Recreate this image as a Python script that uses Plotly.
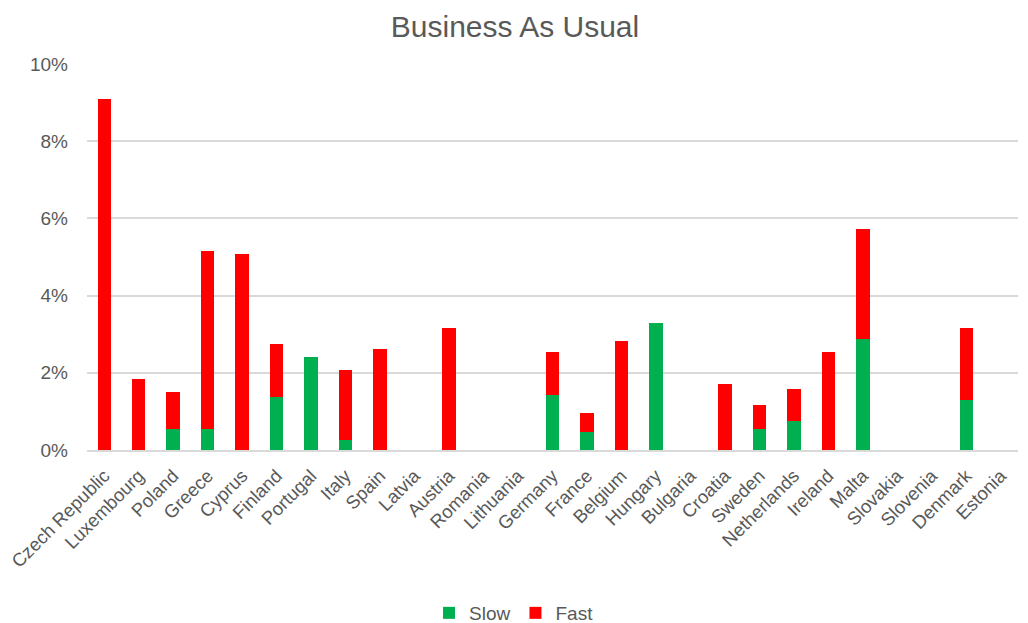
import plotly.graph_objects as go

countries = ["Czech Republic", "Luxembourg", "Poland", "Greece", "Cyprus", "Finland",
             "Portugal", "Italy", "Spain", "Latvia", "Austria", "Romania", "Lithuania",
             "Germany", "France", "Belgium", "Hungary", "Bulgaria", "Croatia", "Sweden",
             "Netherlands", "Ireland", "Malta", "Slovakia", "Slovenia", "Denmark", "Estonia"]

slow = [0.0, 0.0, 0.54, 0.54, 0.0, 1.37, 2.40, 0.27, 0.0, 0.0, 0.0, 0.0, 0.0,
        1.43, 0.47, 0.0, 3.30, 0.0, 0.0, 0.54, 0.75, 0.0, 2.88, 0.0, 0.0, 1.30, 0.0]
total = [9.10, 1.84, 1.50, 5.16, 5.09, 2.75, 2.40, 2.06, 2.61, 0.0, 3.16, 0.0, 0.0,
         2.54, 0.95, 2.82, 3.30, 0.0, 1.71, 1.16, 1.57, 2.54, 5.72, 0.0, 0.0, 3.16, 0.0]
fast = [round(t - s, 2) for t, s in zip(total, slow)]

slow_frac = [v / 100 for v in slow]
fast_frac = [v / 100 for v in fast]

grey = "#595959"
font_family = "Liberation Sans, Arial, sans-serif"

W, H = 1028, 623
OFF = 8  # page body margin offset

fig = go.Figure()
fig.add_trace(go.Bar(x=countries, y=slow_frac, name="Slow", marker_color="#00B050",
                     marker_line_width=0))
fig.add_trace(go.Bar(x=countries, y=fast_frac, name="Fast", marker_color="#FF0000",
                     marker_line_width=0))

fig.update_layout(
    barmode="stack",
    bargap=0.61,
    width=W, height=H,
    margin=dict(l=87 - OFF, r=W - (1018 - OFF), t=64 - OFF, b=H - (450 - OFF),
                autoexpand=False),
    paper_bgcolor="white", plot_bgcolor="white",
    font=dict(family=font_family, color=grey, size=19),
    title=dict(text="Business As Usual", x=(515 - OFF) / W, xanchor="center",
               xref="container", y=1.0, yanchor="top", yref="container",
               pad=dict(t=8, b=0),
               font=dict(size=30, color=grey, family=font_family)),
    legend=dict(orientation="h", x=(514 - OFF) / W, xanchor="center", xref="container",
                y=1 - (594 - OFF) / H, yanchor="top", yref="container",
                font=dict(size=19, color=grey), traceorder="normal",
                itemwidth=30, tracegroupgap=0),
    showlegend=True,
)
fig.update_yaxes(range=[0, 0.10], tickvals=[0, 0.02, 0.04, 0.06, 0.08, 0.10],
                 tickformat=".0%", showgrid=True, gridcolor="#D9D9D9", gridwidth=1.5,
                 zeroline=False, showline=False, ticks="", ticklen=0,
                 ticklabelstandoff=18, automargin=False,
                 tickfont=dict(size=19, color=grey))
fig.update_xaxes(tickangle=-45, showgrid=False, showline=True, linecolor="#D9D9D9",
                 linewidth=1.5, ticks="", automargin=False, ticklabelstandoff=6,
                 tickfont=dict(size=18.5, color=grey))

fig.write_html("out.html")
